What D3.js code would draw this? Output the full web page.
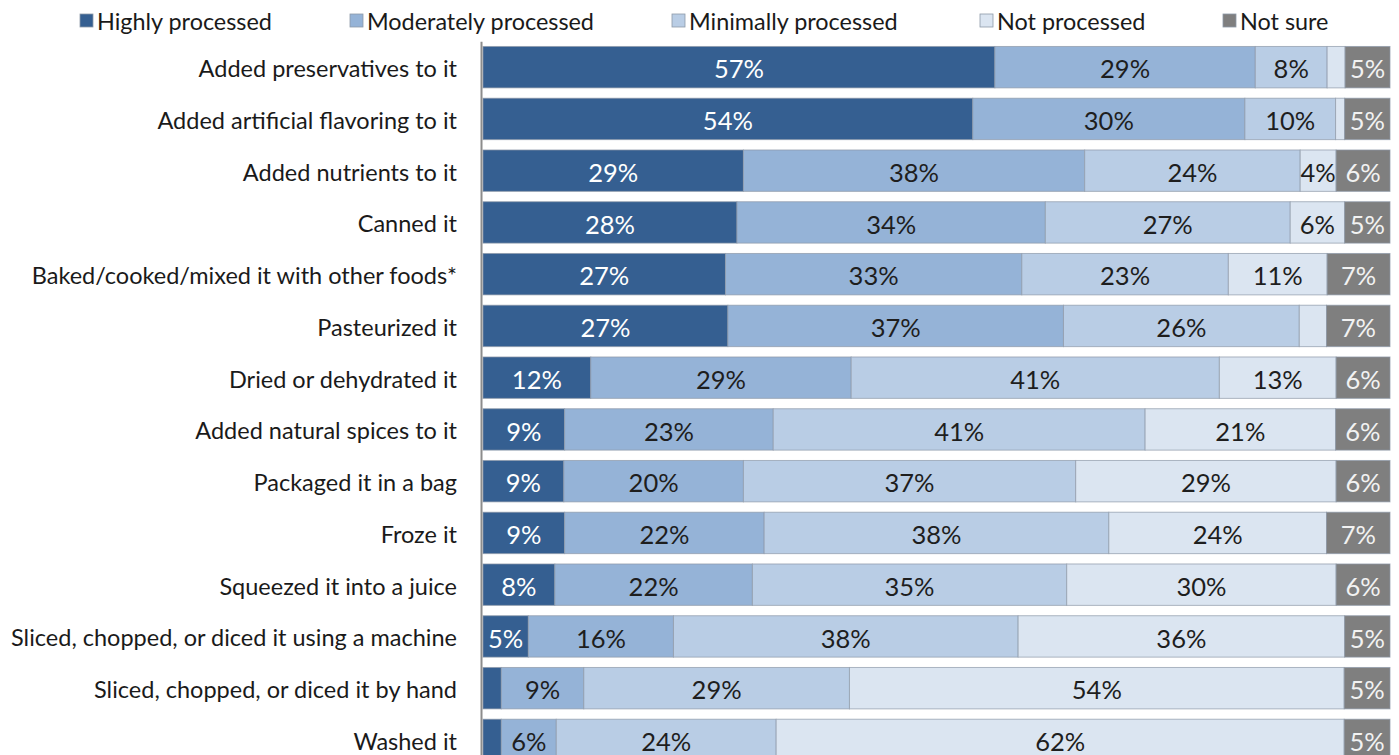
<!DOCTYPE html>
<html>
<head>
<meta charset="utf-8">
<script src="https://cdn.jsdelivr.net/npm/d3@7"></script>
<style>
  html, body { margin: 0; padding: 0; background: #fff; }
  svg { display: block; }
  text { font-family: Lato, "Open Sans", sans-serif; }
</style>
</head>
<body>
<svg id="chart" width="1399" height="755"></svg>
<script>
// Survey categories (rows, top to bottom)
const categories = [
  "Added preservatives to it",
  "Added artificial flavoring to it",
  "Added nutrients to it",
  "Canned it",
  "Baked/cooked/mixed it with other foods*",
  "Pasteurized it",
  "Dried or dehydrated it",
  "Added natural spices to it",
  "Packaged it in a bag",
  "Froze it",
  "Squeezed it into a juice",
  "Sliced, chopped, or diced it using a machine",
  "Sliced, chopped, or diced it by hand",
  "Washed it"
];

const seriesNames = ["Highly processed", "Moderately processed", "Minimally processed", "Not processed", "Not sure"];

// Percent of respondents per answer, one array per series
const highly     = [57, 54, 29, 28, 27, 27, 12,  9,  9,  9,  8,  5,  2,  2];
const moderately = [29, 30, 38, 34, 33, 37, 29, 23, 20, 22, 22, 16,  9,  6];
const minimally  = [ 8, 10, 24, 27, 23, 26, 41, 41, 37, 38, 35, 38, 29, 24];
const notProc    = [ 2,  1,  4,  6, 11,  3, 13, 21, 29, 24, 30, 36, 54, 62];
const notSure    = [ 5,  5,  6,  5,  7,  7,  6,  6,  6,  7,  6,  5,  5,  5];

const seriesValues = [highly, moderately, minimally, notProc, notSure];
const colors = ["#355f91", "#95b3d7", "#b9cde5", "#dbe5f1", "#7f7f7f"];
const labelColors = ["#ffffff", "#1e1e1e", "#1e1e1e", "#1e1e1e", "#f2f2f2"];
const minLabel = 4;

const rows = categories.map((c, i) => {
  const r = { category: c };
  seriesNames.forEach((s, j) => { r[s] = seriesValues[j][i]; });
  return r;
});

const svg = d3.select("#chart");

const x = d3.scaleLinear().domain([0, 1]).range([483, 1390]);
const y = d3.scaleBand()
  .domain(categories)
  .range([41.3, 765.8])
  .paddingInner(0.2)
  .paddingOuter(0.1);

const stack = d3.stack().keys(seriesNames).offset(d3.stackOffsetExpand);
const layers = stack(rows);

const g = svg.append("g");

layers.forEach((layer, j) => {
  const lg = g.append("g");
  lg.selectAll("rect")
    .data(layer)
    .join("rect")
    .attr("x", d => x(d[0]))
    .attr("y", d => y(d.data.category))
    .attr("width", d => x(d[1]) - x(d[0]))
    .attr("height", y.bandwidth())
    .attr("fill", colors[j])
    .attr("stroke", "#8d99a8")
    .attr("stroke-opacity", 0.7)
    .attr("stroke-width", 1);

  lg.selectAll("text")
    .data(layer.filter(d => d.data[layer.key] >= minLabel))
    .join("text")
    .attr("x", d => (x(d[0]) + x(d[1])) / 2)
    .attr("y", d => y(d.data.category) + y.bandwidth() / 2)
    .attr("dy", "0.44em")
    .attr("text-anchor", "middle")
    .attr("font-size", 25.5)
    .attr("fill", labelColors[j])
    .text(d => d.data[layer.key] + "%");
});

// Category axis on the left
const yAxis = d3.axisLeft(y).tickSize(0).tickPadding(24);
const ag = svg.append("g")
  .attr("transform", "translate(481,0)")
  .call(yAxis);
ag.select(".domain").attr("stroke", "#8c8c8c").attr("stroke-width", 2);
ag.selectAll("text")
  .attr("font-size", 23.5)
  .attr("dy", "0.42em")
  .attr("fill", "#1a1a1a")
  .style("font-family", "Lato, 'Open Sans', sans-serif");

// Legend
const legendX = [80, 350, 672, 980, 1223];
const legend = svg.append("g");
seriesNames.forEach((s, j) => {
  const lg = legend.append("g").attr("transform", `translate(${legendX[j]},14)`);
  lg.append("rect")
    .attr("width", 13).attr("height", 13)
    .attr("fill", colors[j])
    .attr("stroke", "#8d99a8").attr("stroke-width", 0.8);
  lg.append("text")
    .attr("x", 17).attr("y", 7)
    .attr("dy", "0.38em")
    .attr("font-size", 23.4)
    .attr("fill", "#1a1a1a")
    .text(s);
});
</script>
</body>
</html>
